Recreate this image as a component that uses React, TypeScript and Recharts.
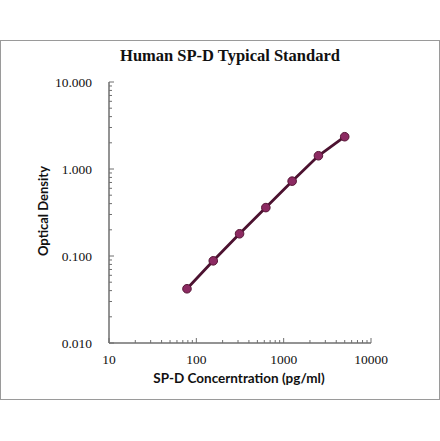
import React from "react";
import { ComposedChart, Line, XAxis, YAxis } from "recharts";

const concentrations = [78.125, 156.25, 312.5, 625, 1250, 2500, 5000];
const odValues = [0.042, 0.088, 0.18, 0.36, 0.725, 1.42, 2.35];

const xTicks = [10, 20, 30, 40, 50, 60, 70, 80, 90, 100, 200, 300, 400, 500, 600, 700, 800, 900, 1000, 2000, 3000, 4000, 5000, 6000, 7000, 8000, 9000, 10000];
const xMajor = [10, 100, 1000, 10000];
const yTicks = [0.01, 0.02, 0.03, 0.04, 0.05, 0.06, 0.07, 0.08, 0.09, 0.1, 0.2, 0.3, 0.4, 0.5, 0.6, 0.7, 0.8, 0.9, 1, 2, 3, 4, 5, 6, 7, 8, 9, 10];
const yMajor = [0.01, 0.1, 1, 10];

const title = "Human SP-D Typical Standard";
const xTitle = "SP-D Concerntration (pg/ml)";
const yTitle = "Optical Density";

const data = concentrations.map((c, i) => ({ x: c, y: odValues[i] }));

const AXIS = "#6f6f6f";
const TICK_FONT = "'Liberation Serif', 'Times New Roman', serif";

const isMajor = (arr: number[], v: number) => arr.some((m) => Math.abs(m - v) < 1e-9);

const XTick = (props: any) => {
  const { x, y, payload } = props;
  const major = isMajor(xMajor, payload.value);
  return (
    <g>
      <line x1={x} x2={x} y1={y} y2={y - (major ? 5 : 3)} stroke={AXIS} strokeWidth={1} />
      {major && (
        <text x={x} y={y + 16} textAnchor="middle" dominantBaseline="central" fontFamily={TICK_FONT} fontSize={13.5} fill="#111">
          {String(payload.value)}
        </text>
      )}
    </g>
  );
};

const YTick = (props: any) => {
  const { x, y, payload } = props;
  const major = isMajor(yMajor, payload.value);
  return (
    <g>
      <line x1={x} x2={x + (major ? 5 : 3)} y1={y} y2={y} stroke={AXIS} strokeWidth={1} />
      {major && (
        <text x={x - 17} y={y} textAnchor="end" dominantBaseline="central" fontFamily={TICK_FONT} fontSize={13.5} fill="#111">
          {payload.value.toFixed(3)}
        </text>
      )}
    </g>
  );
};

export default function App() {
  return (
    <div style={{ position: "absolute", left: 0, top: 0, width: 440, height: 441, background: "#fff", overflow: "hidden" }}>
      <div style={{ position: "absolute", left: 0, top: 40, width: 438, height: 358, border: "1px solid #9a9a9a" }} />
      <div
        style={{
          position: "absolute",
          left: 0,
          width: 460,
          top: 46,
          lineHeight: "20px",
          textAlign: "center",
          fontFamily: "'Liberation Serif', serif",
          fontWeight: "bold",
          fontSize: 16.5,
          color: "#111",
        }}
      >
        {title}
      </div>
      <div style={{ position: "absolute", left: 0, top: 0 }}>
        <ComposedChart width={440} height={441} data={data} margin={{ top: 82, right: 69, bottom: 68, left: 0 }}>
          <XAxis
            dataKey="x"
            type="number"
            scale="log"
            domain={[10, 10000]}
            ticks={xTicks}
            interval={0}
            tick={<XTick />}
            tickSize={0}
            tickMargin={0}
            tickLine={false}
            axisLine={{ stroke: AXIS, strokeWidth: 1.5 }}
            height={30}
            allowDataOverflow
          />
          <YAxis
            dataKey="y"
            type="number"
            scale="log"
            domain={[0.01, 10]}
            ticks={yTicks}
            interval={0}
            tick={<YTick />}
            tickSize={0}
            tickMargin={0}
            tickLine={false}
            axisLine={{ stroke: AXIS, strokeWidth: 1.5 }}
            width={109}
            allowDataOverflow
          />
          <Line
            dataKey="y"
            type="linear"
            stroke="#4c1230"
            strokeWidth={2.8}
            dot={{ r: 4.3, fill: "#8c2a62", stroke: "#561535", strokeWidth: 1 }}
            isAnimationActive={false}
          />
        </ComposedChart>
      </div>
      <div
        style={{
          position: "absolute",
          left: 0,
          width: 478,
          top: 370,
          textAlign: "center",
          fontFamily: "Lato, sans-serif",
          fontWeight: "bold",
          fontSize: 13.5,
          color: "#111",
        }}
      >
        {xTitle}
      </div>
      <div
        style={{
          position: "absolute",
          left: 43,
          top: 211,
          transform: "translate(-50%, -50%) rotate(-90deg)",
          whiteSpace: "nowrap",
          fontFamily: "Lato, sans-serif",
          fontWeight: "bold",
          fontSize: 13,
          color: "#111",
        }}
      >
        {yTitle}
      </div>
    </div>
  );
}
